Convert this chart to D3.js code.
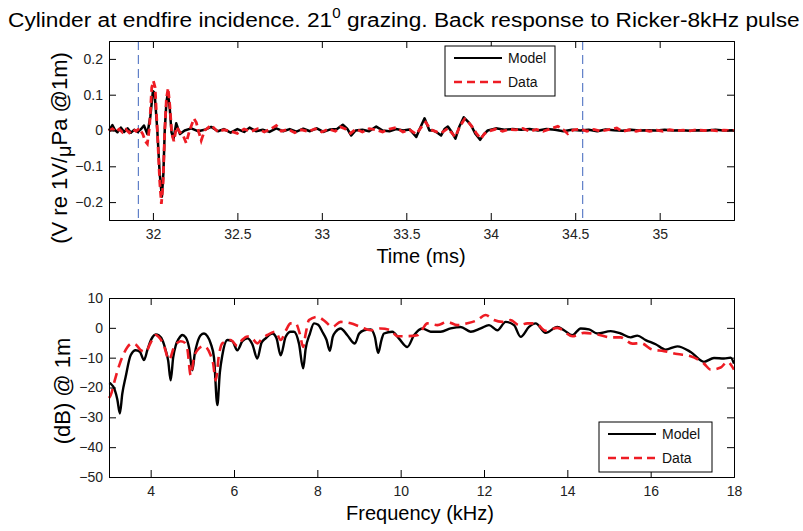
<!DOCTYPE html>
<html>
<head>
<meta charset="utf-8">
<script src="https://cdn.jsdelivr.net/npm/d3@7"></script>
<style>
  body { margin: 0; background: #fff; }
  svg { font-family: "Liberation Sans", Arial, sans-serif; }
  .tick text { fill: #222; }
</style>
</head>
<body>
<svg width="803" height="531"></svg>
<script>
// time response (ms, V re 1V/uPa @1m)
const modelTime = [31.74,31.76,31.775,31.79,31.81,31.83,31.85,31.87,31.89,31.91,31.93,31.947,31.967,31.985,32.0,32.01,32.026,32.04,32.053,32.062,32.07,32.08,32.089,32.1,32.11,32.122,32.138,32.16,32.188,32.227,32.266,32.306,32.345,32.385,32.42,32.46,32.5,32.54,32.572,32.61,32.65,32.69,32.73,32.77,32.81,32.85,32.89,32.93,32.97,33.01,33.05,33.09,33.124,33.15,33.174,33.2,33.24,33.28,33.322,33.36,33.4,33.44,33.48,33.52,33.559,33.58,33.608,33.637,33.66,33.68,33.706,33.726,33.746,33.77,33.791,33.815,33.84,33.865,33.884,33.91,33.937,33.96,33.982,34.03,34.08,34.13,34.18,34.23,34.28,34.33,34.38,34.43,34.48,34.53,34.58,34.63,34.68,34.73,34.78,34.83,34.88,34.93,34.98,35.03,35.08,35.13,35.18,35.23,35.28,35.33,35.38,35.44];
const modelResp = [0,0.015,0.002,-0.005,0.008,-0.004,0.006,-0.006,0.002,-0.004,0.004,0.014,-0.01,0.04,0.11,0.105,0,-0.12,-0.185,-0.12,0,0.08,0.105,0.06,-0.005,-0.023,0.02,-0.01,0,0.006,-0.002,0.002,0.01,-0.002,0.004,-0.006,0.004,-0.004,0.008,-0.002,0.002,-0.004,0.006,-0.002,0.004,-0.003,0.005,-0.002,0.006,-0.004,0.003,0.004,0.016,0.005,-0.014,0,0.002,-0.002,0.011,0,-0.002,0.004,0,0.003,-0.018,0.005,0.034,0,0,-0.005,-0.014,0.004,0.011,-0.005,-0.023,0.012,0.037,0.025,0.014,-0.01,-0.026,-0.01,0,0.006,0.002,0.004,0.002,0.004,0,0.004,0.002,-0.002,0.002,0,0.002,-0.002,0.003,0.001,-0.001,0.002,0,0.001,0,0.002,0,0.001,-0.001,0.001,0,0.002,0,0.001];

const dataTime = [31.74,31.76,31.78,31.8,31.82,31.84,31.86,31.88,31.9,31.92,31.94,31.955,31.967,31.98,31.993,32.003,32.013,32.026,32.04,32.05,32.06,32.07,32.08,32.09,32.1,32.112,32.124,32.14,32.16,32.18,32.197,32.217,32.243,32.257,32.272,32.286,32.306,32.345,32.385,32.42,32.46,32.5,32.54,32.58,32.62,32.66,32.7,32.73,32.76,32.8,32.84,32.88,32.92,32.96,33.0,33.04,33.08,33.11,33.14,33.17,33.2,33.24,33.28,33.32,33.36,33.4,33.44,33.48,33.52,33.559,33.59,33.615,33.645,33.68,33.71,33.746,33.79,33.815,33.845,33.87,33.89,33.915,33.94,33.965,33.99,34.03,34.07,34.11,34.15,34.19,34.23,34.27,34.31,34.35,34.397,34.43,34.456,34.49,34.53,34.57,34.61,34.65,34.69,34.72,34.746,34.78,34.82,34.86,34.9,34.94,34.98,35.02,35.06,35.1,35.14,35.18,35.22,35.26,35.3,35.34,35.38,35.44];
const dataResp = [-0.002,0.005,-0.004,0.004,-0.005,0.003,-0.006,0.004,-0.002,0.006,-0.01,-0.03,-0.037,0.01,0.12,0.138,0.12,0,-0.14,-0.205,-0.15,0,0.09,0.118,0.07,-0.01,-0.03,0.01,-0.005,-0.015,-0.035,0,0.033,0.022,-0.005,-0.028,0,0.015,-0.004,0.002,-0.002,-0.008,0.004,-0.003,0.005,-0.004,0.005,0.014,-0.002,0.003,-0.006,0.002,-0.003,0.005,-0.004,0.004,-0.002,0.01,0.004,-0.008,0.004,-0.004,0.005,0.002,-0.004,0.004,0.008,-0.004,0.002,-0.01,0.01,0.023,0.002,-0.004,-0.006,0.006,-0.018,0.01,0.032,0.022,0.01,-0.008,-0.023,-0.008,-0.002,0.004,-0.002,0.003,0.002,0.006,-0.002,0.003,-0.002,0.004,0.012,0.002,-0.009,0.002,0.004,-0.002,0.003,-0.002,0.002,0.004,0.007,-0.003,0.002,-0.002,0.002,-0.002,0.001,-0.002,0.002,-0.001,0.001,-0.001,0.002,0,0.001,-0.001,0.001,0];

const windowMarks = [31.914, 34.544];

// spectrum (kHz, dB @ 1m)
const modelFreq = [3.0,3.04,3.14,3.2,3.26,3.32,3.4,3.52,3.64,3.74,3.84,3.92,3.98,4.05,4.12,4.2,4.28,4.36,4.42,4.48,4.54,4.6,4.68,4.76,4.84,4.92,5.0,5.06,5.12,5.2,5.28,5.36,5.44,5.52,5.6,5.66,5.72,5.84,5.96,6.08,6.2,6.32,6.44,6.56,6.66,6.76,6.92,7.02,7.12,7.24,7.36,7.44,7.56,7.66,7.72,7.82,7.92,8.02,8.12,8.22,8.3,8.37,8.44,8.56,8.72,8.9,9.0,9.12,9.28,9.38,9.46,9.54,9.6,9.8,9.96,10.16,10.32,10.52,10.72,10.96,11.2,11.44,11.68,11.92,12.12,12.32,12.52,12.72,12.88,13.08,13.24,13.48,13.76,13.92,14.12,14.32,14.52,14.72,15.04,15.28,15.52,15.68,15.88,16.12,16.36,16.64,16.96,17.28,17.52,17.76,17.92,18.0];
const modelDb = [-18.5,-18.7,-20.9,-24,-28.7,-22,-16.4,-9.2,-7.5,-8.0,-10.8,-7.5,-5,-3,-2.2,-2.6,-4.1,-7.5,-11,-17.6,-10,-6,-3.5,-2.4,-3.2,-6.5,-14.2,-8.5,-5,-2.5,-1.9,-2.8,-5.2,-10,-25.9,-15,-9.2,-4.1,-4.5,-7.5,-4.5,-3.5,-5.5,-10.3,-5,-3.5,-1.9,-3.5,-9.2,-3,-1.3,-1.3,-5.3,-13.6,-7,-2,1.5,1,-1.3,-4,-7.7,-3,-1.3,-0.2,-2.5,-5.3,-2,-0.8,-0.5,-3,-8.4,-4,-1.9,-1.3,-3.6,-6.4,-2.5,-0.2,-1.3,-1.3,-0.2,0.3,-1.3,-0.2,0.9,-0.8,2,0.9,-3,0.3,1.5,-1.7,0.3,-0.8,-2.5,-0.2,-0.5,-1.9,-1.1,-1.9,-3.2,-2.6,-4.1,-5.5,-7.3,-6.2,-8.1,-11.4,-10.1,-10.3,-10,-12];

const dataFreq = [3.0,3.04,3.15,3.26,3.36,3.44,3.56,3.66,3.76,3.88,4.0,4.12,4.22,4.32,4.44,4.56,4.72,4.82,4.88,4.96,5.04,5.12,5.28,5.44,5.5,5.56,5.64,5.72,5.92,6.08,6.2,6.32,6.44,6.56,6.68,6.8,7.0,7.12,7.24,7.36,7.48,7.58,7.66,7.72,7.8,8.0,8.2,8.36,8.56,8.8,9.04,9.28,9.52,9.76,9.92,10.16,10.4,10.52,10.64,10.88,11.12,11.36,11.6,11.84,12.04,12.24,12.44,12.64,12.84,13.04,13.24,13.48,13.76,14.12,14.4,14.72,15.04,15.28,15.56,15.76,16.04,16.32,16.64,16.96,17.28,17.44,17.68,17.84,18.0];
const dataDb = [-23.5,-22.6,-17,-12,-8.5,-6.5,-5.2,-5.8,-7.5,-8,-5,-2.4,-3.5,-6.1,-10.7,-6.5,-4.5,-5,-7,-15.9,-10,-7.5,-6.1,-9.2,-12,-17.6,-9,-5.2,-4.1,-6.1,-4,-2.9,-3.5,-5.2,-3.5,-2.4,-1.3,-4.1,-1,1.5,1.5,-2,-6.4,-2,2.6,3.7,2,0.3,2,1.5,0.3,-0.8,-0.2,-0.8,-2.8,-2.8,-2.5,-0.5,1.5,0.9,2,0.9,1.5,2.6,4.3,2.6,2,2.6,0.9,1.5,1.5,-1,0,-2.8,-1.7,-2.2,-3.2,-3.2,-5.3,-5.1,-7.3,-7.8,-8.8,-9.5,-12,-14,-13.3,-11.4,-14];

const timeTicks = [32, 32.5, 33, 33.5, 34, 34.5, 35];
const respTicks = [-0.2, -0.1, 0, 0.1, 0.2];
const freqTicks = [4, 6, 8, 10, 12, 14, 16, 18];
const dbTicks = [-50, -40, -30, -20, -10, 0, 10];

const svg = d3.select("svg");
const left = 109, right = 734;
const tickLen = 7;

function drawFrame(g, x, y, xTicks, yTicks, xFmt, yFmt) {
  const [y0, y1] = y.range();
  g.append("g")
    .attr("transform", "translate(0," + y0 + ")")
    .call(d3.axisBottom(x).tickValues(xTicks).tickSize(-tickLen).tickPadding(9).tickFormat(xFmt));
  g.append("g")
    .attr("transform", "translate(0," + y1 + ")")
    .call(d3.axisTop(x).tickValues(xTicks).tickSize(-tickLen).tickFormat(""));
  g.append("g")
    .attr("transform", "translate(" + left + ",0)")
    .call(d3.axisLeft(y).tickValues(yTicks).tickSize(-tickLen).tickPadding(6).tickFormat(yFmt));
  g.append("g")
    .attr("transform", "translate(" + right + ",0)")
    .call(d3.axisRight(y).tickValues(yTicks).tickSize(-tickLen).tickFormat(""));
  g.selectAll(".domain").attr("stroke", "#000");
  g.selectAll(".tick line").attr("stroke", "#000");
  g.selectAll(".tick text").attr("font-size", 14).attr("font-family", "Liberation Sans, Arial, sans-serif");
}

function legend(g, x0, y0, w, h) {
  g.append("rect").attr("x", x0).attr("y", y0).attr("width", w).attr("height", h)
    .attr("fill", "#fff").attr("stroke", "#000").attr("stroke-width", 1);
  const rows = [["Model", "#000", null, 2.2], ["Data", "#ee1c24", "8,5", 2.6]];
  rows.forEach((r, i) => {
    const yy = y0 + 12 + i * 24;
    g.append("line").attr("x1", x0 + 9).attr("x2", x0 + 57).attr("y1", yy).attr("y2", yy)
      .attr("stroke", r[1]).attr("stroke-width", r[3]).attr("stroke-dasharray", r[2]);
    g.append("text").attr("x", x0 + 63).attr("y", yy + 5).attr("font-size", 14).attr("fill", "#111").text(r[0]);
  });
}

// ---- top panel
const xt = d3.scaleLinear().domain([31.74, 35.44]).range([left, right]);
const yt = d3.scaleLinear().domain([-0.25, 0.25]).range([220, 41]);
const topG = svg.append("g");

topG.selectAll(".mark").data(windowMarks).enter().append("line")
  .attr("x1", d => xt(d)).attr("x2", d => xt(d)).attr("y1", 41).attr("y2", 220)
  .attr("stroke", "#5f7fc8").attr("stroke-width", 1.2).attr("stroke-dasharray", "9,5");

const lineTop = d3.line().x(d => xt(d[0])).y(d => yt(d[1]));
topG.append("path").datum(d3.zip(modelTime, modelResp)).attr("d", lineTop)
  .attr("fill", "none").attr("stroke", "#000").attr("stroke-width", 2.5).attr("stroke-linejoin", "round");
topG.append("path").datum(d3.zip(dataTime, dataResp)).attr("d", lineTop)
  .attr("fill", "none").attr("stroke", "#ee1c24").attr("stroke-width", 2.8).attr("stroke-dasharray", "7,4");

drawFrame(topG, xt, yt, timeTicks, respTicks, d3.format("~g"), d => d === 0 ? "0" : d3.format(".1f")(d));
legend(topG, 445, 46, 110, 50);

topG.append("text").attr("x", 421).attr("y", 263).attr("text-anchor", "middle")
  .attr("font-size", 20).text("Time (ms)");
const yl = topG.append("text").attr("transform", "translate(67,148) rotate(-90)")
  .attr("text-anchor", "middle").attr("font-size", 22);
yl.append("tspan").text("(V re 1V/");
yl.append("tspan").attr("dy", 4).attr("font-size", 20).text("\u03bc");
yl.append("tspan").attr("dy", -4).text("Pa @1m)");

// ---- bottom panel
const xb = d3.scaleLinear().domain([3, 18]).range([left, right]);
const yb = d3.scaleLinear().domain([-50, 10]).range([477, 298]);
const botG = svg.append("g");

const lineBot = d3.line().curve(d3.curveMonotoneX).x(d => xb(d[0])).y(d => yb(d[1]));
botG.append("path").datum(d3.zip(modelFreq, modelDb)).attr("d", lineBot)
  .attr("fill", "none").attr("stroke", "#000").attr("stroke-width", 2.4).attr("stroke-linejoin", "round");
botG.append("path").datum(d3.zip(dataFreq, dataDb)).attr("d", lineBot)
  .attr("fill", "none").attr("stroke", "#ee1c24").attr("stroke-width", 2.6).attr("stroke-dasharray", "10,6");

drawFrame(botG, xb, yb, freqTicks, dbTicks, d3.format("d"), d3.format("d"));
legend(botG, 599, 422, 113, 50);

botG.append("text").attr("x", 420).attr("y", 520).attr("text-anchor", "middle")
  .attr("font-size", 20).text("Frequency (kHz)");
botG.append("text").attr("transform", "translate(70,391) rotate(-90)")
  .attr("text-anchor", "middle").attr("font-size", 22).attr("xml:space", "preserve").text("(dB) @ 1m");

// ---- title
const title = svg.append("text").attr("x", 0).attr("y", 27).attr("font-size", 21);
title.append("tspan").text("Cylinder at endfire incidence. 21");
title.append("tspan").attr("dy", -9).attr("font-size", 14).text("0");
title.append("tspan").attr("dy", 9).text(" grazing. Back response to Ricker-8kHz pulse");
const tw = title.node().getComputedTextLength();
title.attr("transform", "translate(8,0) scale(" + (792 / tw) + ",1)");
</script>
</body>
</html>
